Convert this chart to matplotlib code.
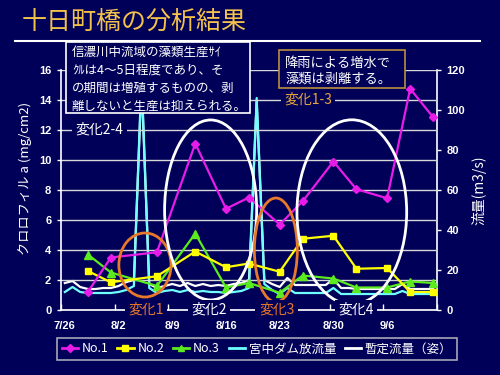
import matplotlib
matplotlib.use('Agg')
import matplotlib.pyplot as plt
from matplotlib.patches import Ellipse, Rectangle
from matplotlib.lines import Line2D
import numpy as np
import pandas as pd

plt.rcParams['font.family'] = ['Noto Sans CJK JP', 'DejaVu Sans']

# ---------------- data ----------------
start_date = '2004-07-26'
tick_labels = ['7/26', '8/2', '8/9', '8/16', '8/23', '8/30', '9/6']
sample_dates = ['2004-07-29', '2004-08-01', '2004-08-07', '2004-08-12', '2004-08-16',
                '2004-08-19', '2004-08-23', '2004-08-26', '2004-08-30', '2004-09-02',
                '2004-09-06', '2004-09-09', '2004-09-12']
no1 = [1.2, 3.5, 3.85, 11.1, 6.75, 7.5, 5.7, 7.25, 9.9, 8.05, 7.45, 14.75, 12.85]
no2 = [2.6, 1.85, 2.25, 3.9, 2.85, 3.1, 2.55, 4.75, 4.95, 2.75, 2.8, 1.2, 1.2]
no3 = [3.7, 2.5, 1.6, 5.1, 1.5, 1.8, 1.15, 2.3, 2.1, 1.5, 1.5, 1.9, 1.8]
# daily flow (m3/s), 7/26 .. 9/12
dam_flow = [9, 11.5, 9, 8.5, 8.5, 8.5, 8.5, 9, 10, 12,
            118, 11, 8.5, 9.5, 10, 9, 10, 9, 9.5, 9,
            9, 8.5, 9, 9.5, 11, 106, 13, 10, 8, 11,
            8.5, 8.5, 8.5, 8.5, 8.5, 11, 8, 8, 8, 8,
            8, 8, 8, 8, 9.5, 8, 8, 8, 8]
prov_flow = [13.5, 14.5, 11.5, 10.5, 10.5, 11, 11, 12, 14, 15,
             114, 13, 11, 12, 13, 12, 13.5, 12, 13, 12,
             12.5, 12, 13, 13.5, 15, 104, 15, 13, 11.5, 16,
             12.5, 12.5, 12.5, 12.5, 12.5, 15.5, 11, 11, 10.5, 10.5,
             10.5, 10.5, 10.5, 10.5, 13, 10.5, 10.5, 10.5, 10.5]
series_names = ['No.1', 'No.2', 'No.3', '宮中ダム放流量', '暫定流量（姿）']

# ---------------- style ----------------
BG = '#000058'
MAG = '#E81CE8'
YEL = '#FFFF00'
GRN = '#5CEB1E'
CYN = '#70FFFF'
WHT = '#FFFFFF'
ORANGE = '#E8782A'
GOLD = '#F2C24A'
W, H = 500, 375


def fx(p):
    return p / W


def fy(p):
    return 1 - p / H


fig = plt.figure(figsize=(5, 3.75), dpi=100, facecolor=BG)
ax = fig.add_axes([fx(61), fy(310), fx(437) - fx(61), fy(70) - fy(310)])
ax2 = ax.twinx()
ax.set_zorder(3)
ax.patch.set_visible(False)
ax2.patch.set_visible(False)

start = pd.Timestamp(start_date)
sx = (pd.to_datetime(sample_dates) - start).days.values
fxd = np.arange(len(dam_flow))

ax2.plot(fxd, prov_flow, color=WHT, lw=1.6, zorder=2)
ax2.plot(fxd, dam_flow, color=CYN, lw=1.6, zorder=3)

ax.plot(sx, no3, color=GRN, lw=1.6, marker='^', ms=5.5, zorder=4)
ax.plot(sx, no2, color=YEL, lw=1.6, marker='s', ms=5, zorder=5)
ax.plot(sx, no1, color=MAG, lw=1.6, marker='D', ms=4, zorder=6)

ax.set_xlim(-0.5, len(dam_flow) - 0.5)
ax.set_ylim(0, 16)
ax2.set_ylim(0, 120)
ax.set_yticks(range(0, 17, 2))
ax2.set_yticks(range(0, 121, 20))
ax.set_xticks(np.arange(0, 7 * len(tick_labels), 7))
ax.set_xticklabels(tick_labels)
ax.set_xticks(np.arange(-0.5, len(dam_flow), 7), minor=True)

ax.grid(axis='y', color='#D8D8D8', lw=1)
ax.set_axisbelow(True)

for s in ['top', 'right']:
    ax.spines[s].set_visible(False)
for s in ['top', 'left', 'bottom']:
    ax2.spines[s].set_visible(False)
ax.spines['left'].set_color(WHT)
ax.spines['bottom'].set_color(WHT)
ax2.spines['right'].set_color(WHT)
for sp in [ax.spines['left'], ax.spines['bottom'], ax2.spines['right']]:
    sp.set_linewidth(1.2)

ax.tick_params(axis='y', colors=WHT, direction='out', length=3, width=1, labelsize=8, pad=4)
ax2.tick_params(axis='y', colors=WHT, direction='out', length=3, width=1, labelsize=8, pad=4)
ax.tick_params(axis='x', which='major', length=0, colors=WHT, labelsize=8, pad=8)
ax.tick_params(axis='x', which='minor', direction='in', length=4, width=1, color=WHT)
for lab in ax.get_yticklabels() + ax2.get_yticklabels() + ax.get_xticklabels():
    lab.set_fontfamily('Liberation Sans')
    lab.set_fontweight('bold')

ax.set_ylabel('クロロフィル a (mg/cm2)', color=WHT, fontsize=9.5)
ax.yaxis.set_label_coords(-0.078, 0.55)
ax2.set_ylabel('流量(m3/s)', color=WHT, fontsize=10)
ax2.yaxis.set_label_coords(1.093, 0.5)

# ellipses (annotation)
ells = [((10.44, 3.0), 6.8, 4.27, ORANGE),
        ((19.0, 6.67), 12.0, 12.0, WHT),
        ((27.5, 4.0), 5.6, 6.93, ORANGE),
        ((37.4, 6.53), 14.3, 12.3, WHT)]
for c, w, h, col in ells:
    ax.add_patch(Ellipse(c, w, h, fill=False, ec=col, lw=2, zorder=8, clip_on=False))

lab_kw = dict(ha='center', va='center', fontsize=10, zorder=10, clip_on=False,
              bbox=dict(facecolor=BG, edgecolor='none', pad=2.5))
ax.text(10.6, 0, '変化1', color=ORANGE, **lab_kw)
ax.text(18.8, 0, '変化2', color=WHT, **lab_kw)
ax.text(27.6, 0, '変化3', color=ORANGE, **lab_kw)
ax.text(37.9, 0, '変化4', color=WHT, **lab_kw)
ax.text(4.5, 12, '変化2-4', color=WHT, **lab_kw)
ax.text(31.7, 14, '変化1-3', color='#E8A63A', **lab_kw)

# title
fig.text(fx(22), fy(22), '十日町橋の分析結果', fontsize=18, color=GOLD, va='center', ha='left')
fig.add_artist(Line2D([fx(15), fx(480)], [fy(41), fy(41)], color=WHT, lw=1.5,
                      transform=fig.transFigure))

# text box 1
fig.add_artist(Rectangle((fx(66), fy(113)), fx(250) - fx(66), fy(42) - fy(113),
                         transform=fig.transFigure, fc=BG, ec=WHT, lw=1.2, zorder=20))
lines1 = ['信濃川中流域の藻類生産ｻｲ', 'ｸﾙは4～5日程度であり、そ',
          'の期間は増殖するものの、剥', '離しないと生産は抑えられる。']
for i, t in enumerate(lines1):
    fig.text(fx(72), fy(52 + 18 * i), t, color=WHT, fontsize=9, va='center', ha='left', zorder=21)

# text box 2
fig.add_artist(Rectangle((fx(279), fy(88)), fx(405) - fx(279), fy(50) - fy(88),
                         transform=fig.transFigure, fc=BG, ec='#B88E3E', lw=1.2, zorder=20))
lines2 = ['降雨による増水で', '藻類は剥離する。']
for i, t in enumerate(lines2):
    fig.text(fx(285), fy(63 + 16 * i), t, color=WHT, fontsize=9.5, va='center', ha='left', zorder=21)

# legend
handles = [Line2D([], [], color=MAG, lw=2, marker='D', ms=4),
           Line2D([], [], color=YEL, lw=2, marker='s', ms=4.5),
           Line2D([], [], color=GRN, lw=2, marker='^', ms=5),
           Line2D([], [], color=CYN, lw=2),
           Line2D([], [], color=WHT, lw=2)]
leg = fig.legend(handles, series_names, loc='center', bbox_to_anchor=(fx(257), fy(349)),
                 ncol=5, frameon=True, facecolor=BG, edgecolor='#D0D0D0', fontsize=9,
                 labelcolor=WHT, handlelength=1.3, handletextpad=0.3, columnspacing=0.7,
                 borderpad=0.35, fancybox=False)
leg.get_frame().set_linewidth(1.2)

fig.savefig('out.png', dpi=100, facecolor=BG)
